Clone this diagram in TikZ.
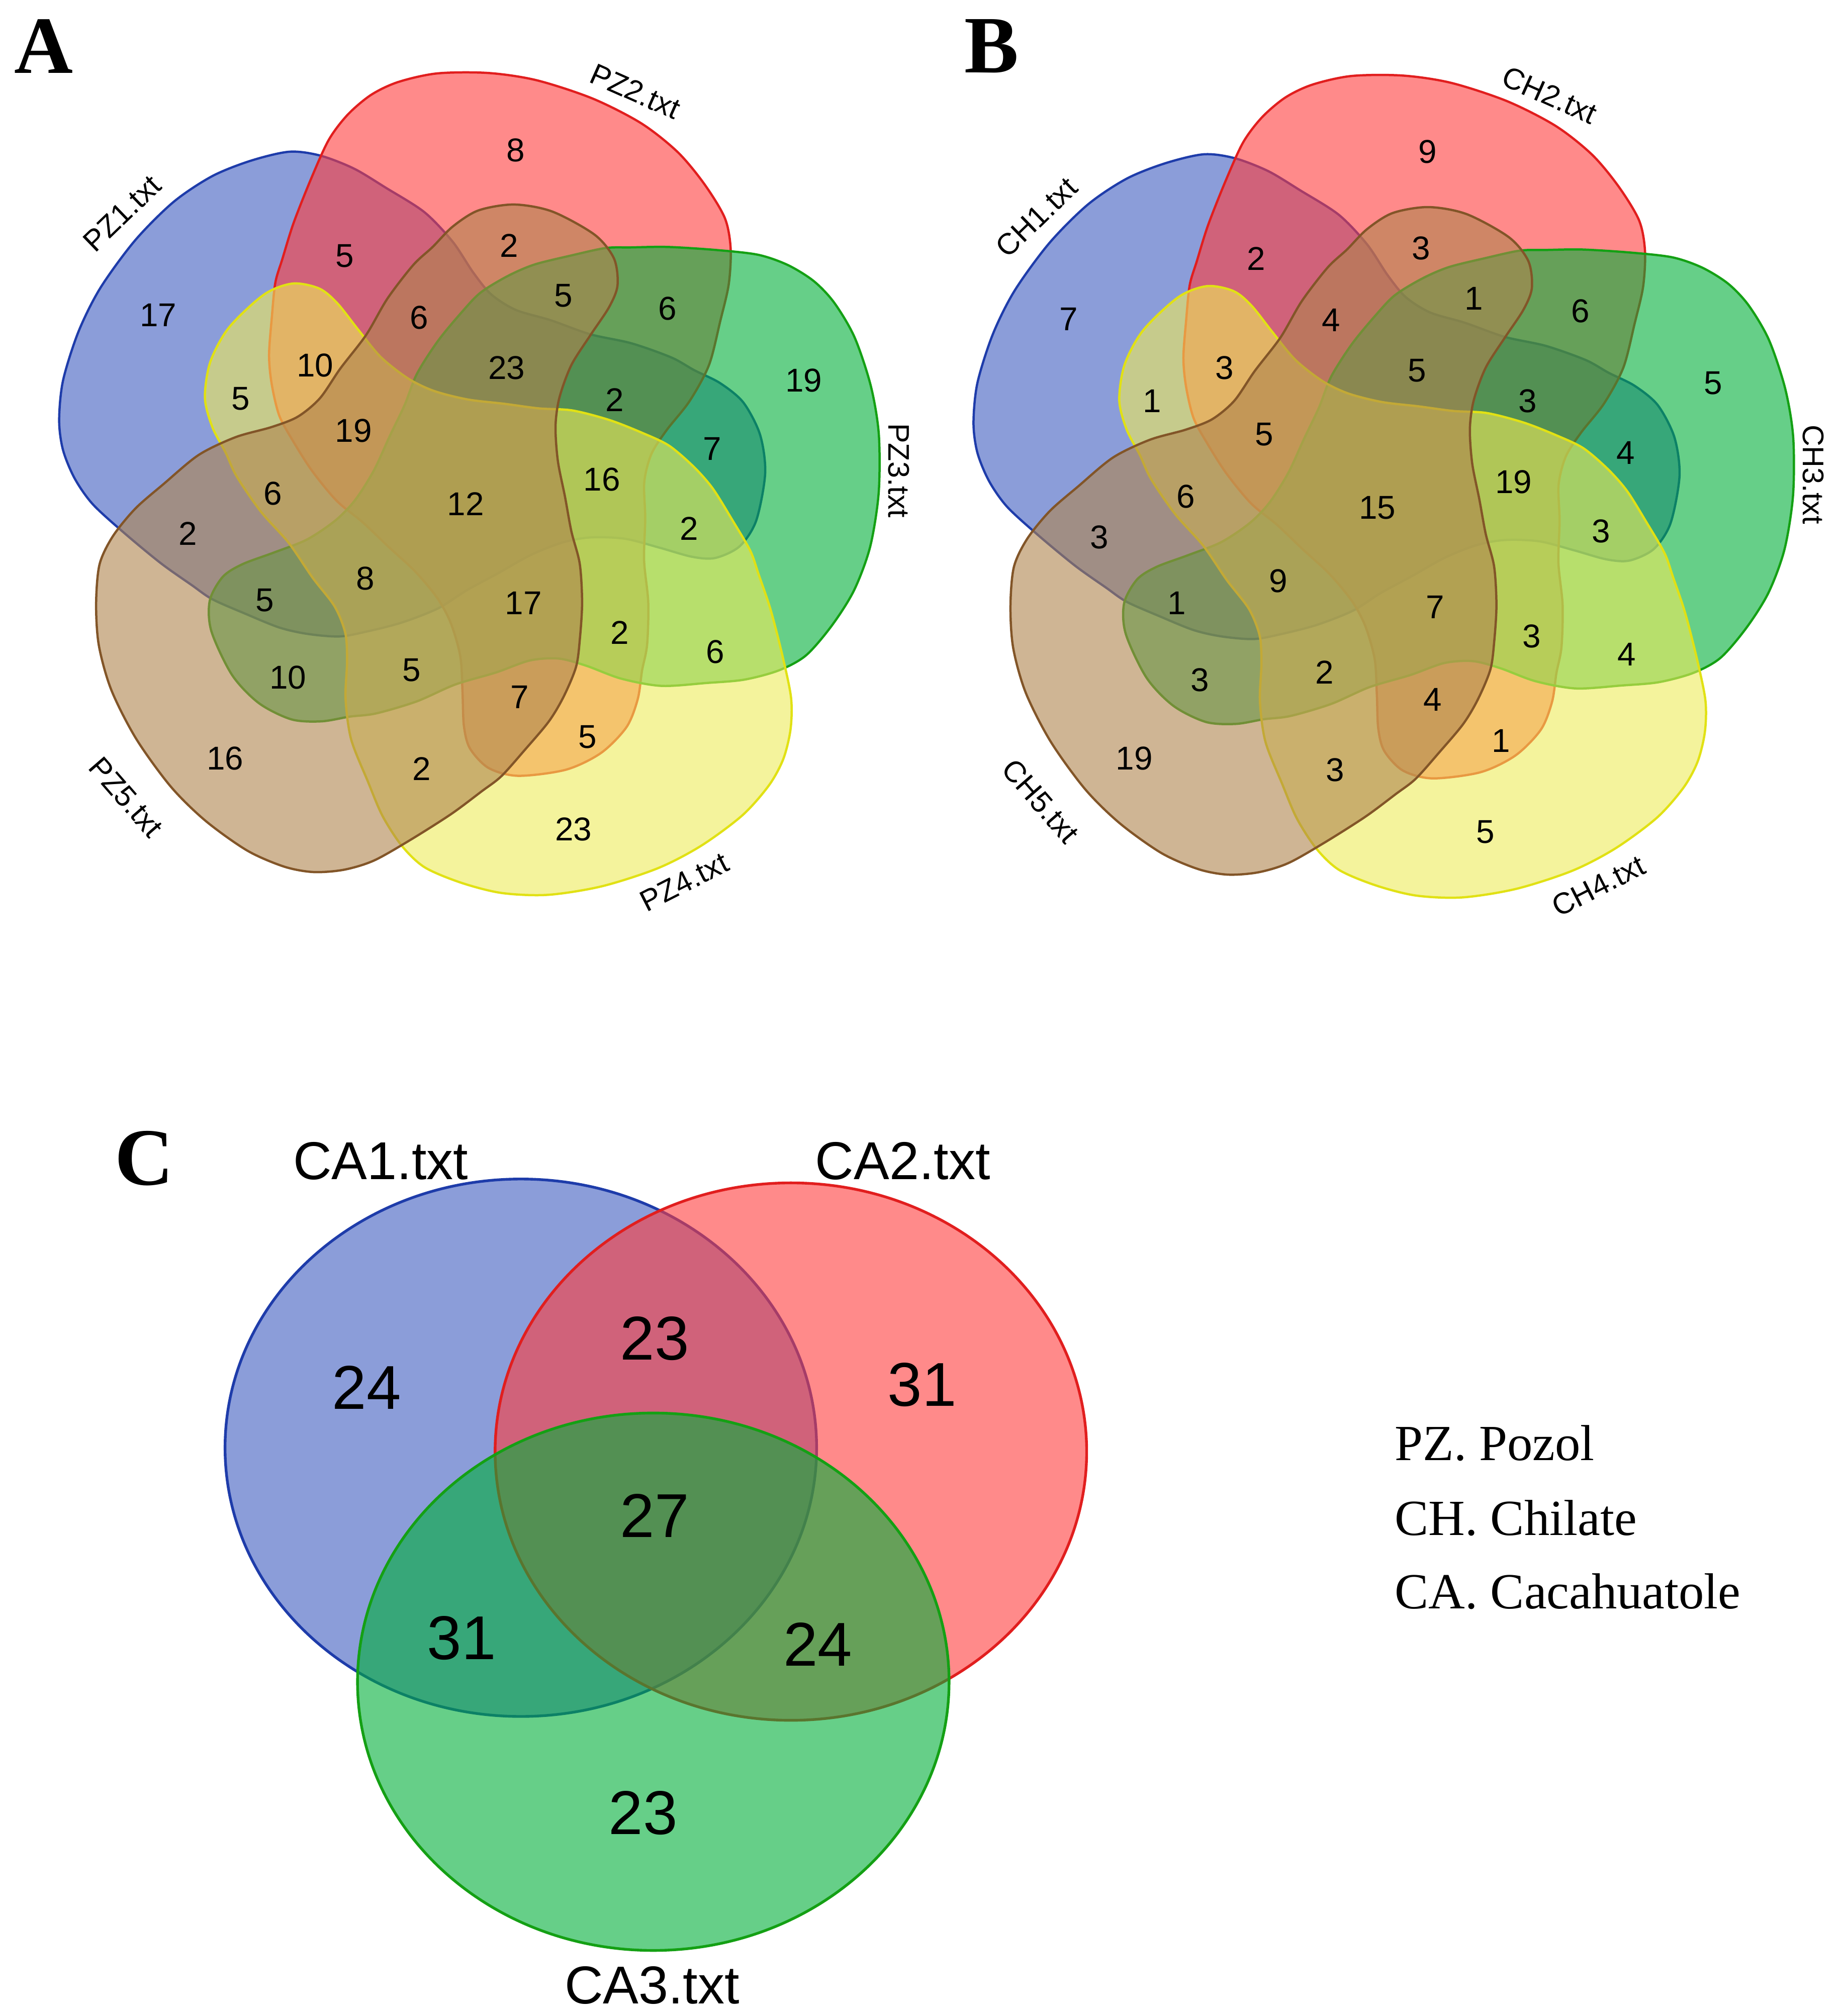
\documentclass[tikz,border=0pt]{standalone}
\usepackage{fontspec}
\setmainfont{Liberation Serif}
\setsansfont{Liberation Sans}
\usetikzlibrary{positioning}

\definecolor{vblue}{RGB}{62,92,192}
\definecolor{vred}{RGB}{255,60,60}
\definecolor{vgreen}{RGB}{0,175,57}
\definecolor{vyellow}{RGB}{238,235,90}
\definecolor{vbrown}{RGB}{175,132,78}
\definecolor{lblue}{RGB}{30,60,170}
\definecolor{lred}{RGB}{225,30,30}
\definecolor{lgreen}{RGB}{20,160,20}
\definecolor{lyellow}{RGB}{225,225,20}
\definecolor{lbrown}{RGB}{130,85,40}

\begin{document}
\begin{tikzpicture}[x=0.1mm,y=-0.1mm]
  \tikzstyle{sblue}=[fill=vblue,draw=lblue,fill opacity=0.6,line width=0.5pt]
  \tikzstyle{sred}=[fill=vred,draw=lred,fill opacity=0.6,line width=0.5pt]
  \tikzstyle{sgreen}=[fill=vgreen,draw=lgreen,fill opacity=0.6,line width=0.5pt]
  \tikzstyle{syellow}=[fill=vyellow,draw=lyellow,fill opacity=0.6,line width=0.5pt]
  \tikzstyle{sbrown}=[fill=vbrown,draw=lbrown,fill opacity=0.6,line width=0.5pt]
  \tikzstyle{num}=[font=\sffamily\fontsize{7.3}{8}\selectfont,inner sep=0pt]
  \tikzstyle{setlab}=[font=\sffamily\fontsize{6.6}{8}\selectfont,inner sep=0pt]
  \tikzstyle{bignum}=[font=\sffamily\fontsize{13.7}{16}\selectfont,inner sep=0pt]
  \tikzstyle{cset}=[font=\sffamily\fontsize{11.8}{14}\selectfont,inner sep=0pt]
  \tikzstyle{panel}=[font=\bfseries\fontsize{18}{20}\selectfont,inner sep=0pt]
  \tikzstyle{legend}=[font=\fontsize{11.2}{13}\selectfont,inner sep=0pt,anchor=base west]

  \fill[white] (0,0) rectangle (1432,1568);
  \useasboundingbox (0,0) rectangle (1432,1568);

  % five-set diagrams A and B (one bean shape, turned round the centre)
  \foreach \dx/\dy in {0/0,711/2}
    \foreach \k/\s/\tx/\ty in {0/sblue/0/0,1/sred/4/6,2/sgreen/7/14,3/syellow/8/19,4/sbrown/-1/17}
      \draw[\s, shift={(361+\dx+\tx,371+\dy+\ty)}, rotate=-72*\k]
        plot[smooth cycle, tension=0.5] coordinates {
          (234,-3) (230,-33) (217,-58) (199,-73) (179,-83) (161,-93)
          (130,-104) (98,-111) (67,-122) (40,-130) (21,-142) (7,-159)
          (-9,-183) (-31,-206) (-61,-225) (-86,-240) (-112,-250) (-136,-253)
          (-166,-246) (-196,-234) (-226,-214) (-256,-184) (-283,-147) (-300,-113)
          (-312,-75) (-315,-44) (-312,-21) (-303,1) (-289,21) (-265,43)
          (-236,67) (-212,84) (-196,95) (-171,106) (-144,117) (-122,122)
          (-97,124) (-75,120) (-48,113) (-20,102) (2,88) (26,75)
          (51,61) (76,51) (98,47) (125,48) (152,55) (177,62)
          (195,63) (214,54) (227,34)};

  \foreach \dx/\dy/\p in {0/0/PZ,711/3/CH}
    \foreach \x/\y/\r/\k in {95/166/44/1, 494/71/-24/2, 699/366/-90/3,
                             532/686/27/4, 98/620/-49/5}
      \node[setlab, rotate=\r] (\p\k) at (\x+\dx,\y+\dy) {\p\k.txt};

  \foreach \x/\y/\n [count=\i] in {123/245/17, 401/117/8, 625/296/19, 446/645/23,
      175/590/16, 268/199/5, 396/191/2, 438/230/5, 519/240/6, 326/247/6,
      245/284/10, 187/310/5, 275/335/19, 394/286/23, 478/311/2, 554/349/7,
      468/373/16, 362/392/12, 536/411/2, 212/384/6, 146/415/2, 284/450/8,
      206/467/5, 407/469/17, 482/492/2, 556/507/6, 224/527/10, 320/521/5,
      404/542/7, 457/573/5, 328/598/2}
    \node[num] (A\i) at (\x,\y) {\n};

  \foreach \x/\y/\n [count=\i] in {831/248/7, 1110/118/9, 1332/298/5, 1155/647/5,
      882/590/19, 977/201/2, 1105/193/3, 1146/232/1, 1229/242/6, 1035/249/4,
      952/286/3, 896/312/1, 983/338/5, 1102/288/5, 1188/312/3, 1264/352/4,
      1177/375/19, 1071/395/15, 1245/413/3, 922/386/6, 855/418/3, 994/452/9,
      915/469/1, 1116/472/7, 1191/495/3, 1265/509/4, 933/529/3, 1030/523/2,
      1114/544/4, 1167/576/1, 1038/599/3}
    \node[num] (B\i) at (\x,\y) {\n};

  % three-set diagram C
  \draw[sblue,line width=0.6pt]  (405,1126) ellipse [x radius=23mm, y radius=20.9mm];
  \draw[sred,line width=0.6pt]   (615,1129) ellipse [x radius=23mm, y radius=20.9mm];
  \draw[sgreen,line width=0.6pt] (508,1308) ellipse [x radius=23mm, y radius=20.9mm];

  \node[cset] (CA1) at (296,903) {CA1.txt};
  \node[cset] (CA2) at (702,903) {CA2.txt};
  \node[cset] (CA3) at (507,1544) {CA3.txt};

  \foreach \x/\y/\n [count=\i] in {285/1079/24, 509/1041/23, 717/1077/31,
      509/1179/27, 359/1274/31, 636/1279/24, 500/1410/23}
    \node[bignum] (C\i) at (\x,\y) {\n};

  % panel letters and legend
  \node[panel] (lettA) at (34,36) {A};
  \node[panel] (lettB) at (771,36) {B};
  \node[panel] (lettC) at (112,901) {C};

  \node[legend] (legPZ) at (1084,1136) {PZ. Pozol};
  \node[legend] (legCH) at (1084,1194) {CH. Chilate};
  \node[legend] (legCA) at (1084,1251) {CA. Cacahuatole};
\end{tikzpicture}
\end{document}
